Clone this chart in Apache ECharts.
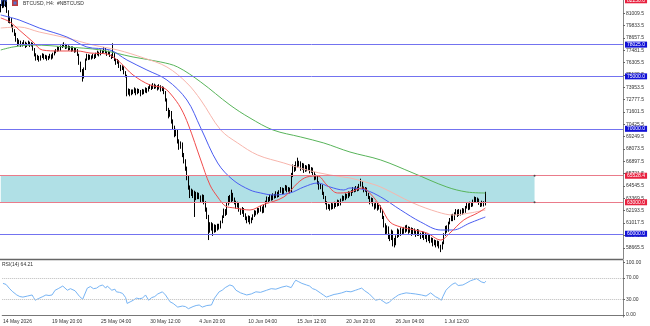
<!DOCTYPE html>
<html>
<head>
<meta charset="utf-8">
<script src="https://cdn.jsdelivr.net/npm/echarts@6/dist/echarts.min.js"></script>
<style>
  html, body { margin: 0; padding: 0; background: #fff; }
  #chart { width: 650px; height: 326px; }
</style>
</head>
<body>
<div id="chart"></div>
<script>
// BTCUSD H4 candles (open = previous close)
var firstOpen = 81300;
var closes = [
  81650, 81950, 81700, 82050, 81200, 80300, 80450, 79800, 79350, 79050,
  78500, 78150, 78300, 77950, 78100, 78250, 77900, 78050, 78200, 77950,
  78100, 77600, 77100, 76700, 76900, 76600, 76850, 77050, 76750, 76900,
  76650, 76800, 77000, 76750, 77100, 77300, 77450, 77700, 77550, 77800,
  77900, 78050, 77750, 77850, 77600, 77750, 77500, 77700, 77400, 77550,
  77100, 76300, 75600, 74900, 75700, 76600, 77000, 76700, 76900, 76750,
  77000, 76800, 77100, 77300, 77050, 77400, 77300, 77650, 77350, 77100,
  77300, 77000, 76800, 77200, 76600, 76300, 76500, 76000, 75700, 75900,
  75400, 75100, 73400, 73700, 73300, 73600, 73500, 73800, 73400, 73700,
  73600, 73300, 73650, 73500, 73800, 73600, 73900, 74100, 73850, 74200,
  73950, 74050, 73800, 74100, 73700, 73900, 73500, 72800, 71900, 71300,
  71600, 70800, 70200, 69500, 69800, 68900, 68300, 68600, 67600, 67000,
  66300, 65400, 64500, 63800, 64100, 63600, 63900, 63400, 63800, 63500,
  63200, 63600, 63000, 62400, 61700, 61000, 60500, 60900, 60300, 60700,
  60400, 60800, 60600, 61100, 61600, 62200, 61900, 62800, 63400, 63100,
  63700, 63300, 63000, 62600, 62900, 62300, 62000, 62400, 61800, 61500,
  61200, 61600, 61100, 61400, 61700, 62100, 61900, 62300, 62200, 62500,
  62100, 62600, 63000, 63400, 63200, 63600, 63300, 63700, 63500, 63900,
  63600, 64000, 64300, 63900, 64200, 64500, 64100, 64300, 64000, 65600,
  66400, 66100, 66700, 66500, 66800, 66200, 66600, 66000, 66400, 66100,
  66500, 65900, 66200, 65800, 65300, 65500, 64900, 64400, 64600, 63900,
  63500, 63000, 62500, 62700, 62400, 62800, 62500, 62900, 62700, 63100,
  62800, 63200, 63500, 63300, 63700, 63500, 63900, 63700, 64000, 64300,
  64100, 64400, 64200, 64600, 64900, 64400, 64100, 64300, 63800, 63500,
  63000, 63300, 62800, 62500, 62900, 62400, 62600, 62200, 61600, 60900,
  60200, 60600, 59800, 59600, 60200, 59500, 59000, 59700, 60300, 59900,
  60400, 60100, 60500, 60300, 60600, 60200, 60500, 60000, 60400, 60200,
  59900, 60300, 60000, 59700, 60100, 59600, 59900, 59400, 59800, 59300,
  59500, 59000, 59300, 58900, 59200, 58800, 58600, 59100, 59900, 60600,
  60300, 61000, 61300, 61700, 61400, 61900, 62200, 61800, 62200, 61900,
  62300, 62100, 62500, 62800, 62400, 62900, 62700, 63100, 63400, 63100,
  63300, 62900, 62700, 63000, 62800, 63800
];
var highs = [
  81900, 82150, 82250, 82200, 82100, 81300, 80700, 80550, 79900, 79500,
  79150, 78650, 78500, 78400, 78250, 78450, 78300, 78200, 78400, 78300,
  78250, 78200, 77700, 77200, 77050, 76950, 77000, 77200, 77150, 77050,
  77000, 76950, 77150, 77100, 77250, 77450, 77600, 77850, 77800, 77950,
  78100, 78250, 78100, 78000, 77950, 77900, 77850, 77850, 77750, 77700,
  77600, 77150, 76400, 75700, 75850, 76700, 77150, 77100, 77050, 77000,
  77150, 77100, 77250, 77450, 77350, 77550, 77500, 77800, 77700, 77400,
  77450, 77350, 77100, 78150, 77250, 76700, 76650, 76550, 76100, 76050,
  75950, 75500, 75150, 73850, 73800, 73750, 73750, 73950, 73850, 73850,
  73800, 73700, 73800, 73750, 73950, 73900, 74050, 74250, 74200, 74350,
  74300, 74200, 74150, 74250, 74150, 74050, 74000, 73600, 72900, 72000,
  71800, 71700, 70900, 70300, 70000, 69900, 69000, 68800, 68700, 67700,
  67100, 66400, 65500, 64600, 64300, 64200, 64100, 64000, 63950, 63900,
  63650, 63750, 63700, 63100, 62500, 61800, 61100, 61100, 61000, 60900,
  60850, 60950, 60950, 61250, 61750, 62400, 62350, 62950, 63600, 63700,
  64200, 63900, 63450, 63150, 63050, 63000, 62400, 62550, 62450, 61950,
  61650, 61750, 61700, 61550, 61850, 62250, 62200, 62450, 62450, 62650,
  62600, 62750, 63150, 63550, 63500, 63750, 63700, 63850, 63800, 64050,
  64000, 64150, 64450, 64400, 64350, 64650, 64600, 64450, 64400, 65800,
  66600, 66550, 66900, 67250, 66950, 66900, 66750, 66700, 66550, 66500,
  66650, 66600, 66350, 66300, 65900, 65650, 65600, 65000, 64750, 64700,
  64000, 63600, 63100, 62850, 62800, 62950, 62900, 63050, 63000, 63250,
  63200, 63350, 63650, 63600, 63850, 63800, 64050, 64000, 64150, 64450,
  64400, 64550, 64500, 64750, 65250, 65000, 64500, 64450, 64400, 63900,
  63600, 63450, 63400, 62900, 63050, 63000, 62750, 62700, 62300, 61700,
  61000, 60800, 60700, 60000, 60400, 60300, 59600, 59850, 60500, 60400,
  60600, 60500, 60650, 60800, 60850, 60700, 60650, 60600, 60550, 60500,
  60300, 60450, 60400, 60100, 60250, 60200, 60050, 60000, 59950, 59900,
  59650, 59600, 59450, 59400, 59350, 59300, 58950, 59250, 60050, 60750,
  60800, 61150, 61500, 61850, 61900, 62050, 62350, 62300, 62350, 62300,
  62450, 62400, 62650, 62950, 62900, 63050, 63000, 63250, 63550, 63500,
  63450, 63350, 63000, 63150, 63100, 64000
];
var lows = [
  81100, 81500, 81550, 81600, 81050, 80100, 80050, 79600, 79200, 78850,
  78300, 77900, 77950, 77800, 77850, 78000, 77700, 77800, 77950, 77800,
  77850, 77450, 76900, 76500, 76550, 76400, 76500, 76750, 76600, 76650,
  76500, 76550, 76700, 76600, 76700, 77000, 77200, 77350, 77400, 77450,
  77700, 77800, 77600, 77650, 77450, 77500, 77350, 77400, 77250, 77300,
  76950, 76100, 75400, 74500, 74800, 75600, 76500, 76550, 76600, 76600,
  76700, 76650, 76750, 77000, 76900, 77000, 77150, 77250, 77200, 76950,
  77050, 76850, 76650, 76750, 76450, 76100, 76200, 75800, 75500, 75600,
  75200, 74900, 73100, 73250, 73100, 73200, 73300, 73400, 73200, 73300,
  73400, 73100, 73250, 73300, 73450, 73400, 73550, 73800, 73700, 73800,
  73800, 73850, 73650, 73750, 73550, 73600, 73300, 72600, 71700, 71000,
  71150, 70500, 69900, 69200, 69300, 68600, 68000, 68100, 67300, 66700,
  66000, 65100, 64200, 63400, 63600, 63400, 61600, 63200, 63300, 63300,
  63000, 63050, 62800, 62100, 61400, 59400, 60100, 60300, 59800, 60100,
  60150, 60300, 60400, 60500, 61000, 61500, 61700, 61800, 62700, 62900,
  63000, 63100, 62800, 62400, 62500, 62100, 61800, 61900, 61600, 61300,
  61000, 61100, 60900, 61000, 61300, 61600, 61750, 61850, 62000, 62100,
  61950, 62000, 62500, 62900, 63000, 63100, 63150, 63200, 63350, 63400,
  63450, 63500, 63900, 63750, 63800, 64100, 63950, 64000, 63850, 63950,
  65400, 65900, 66000, 66300, 66400, 66000, 66100, 65800, 65900, 65950,
  66000, 65750, 65800, 65600, 65100, 65150, 64700, 64200, 64250, 63700,
  63300, 62800, 62300, 62350, 62200, 62300, 62350, 62400, 62550, 62600,
  62650, 62700, 63100, 63150, 63200, 63350, 63400, 63550, 63600, 63900,
  63950, 64000, 64050, 64100, 64500, 64250, 63950, 64000, 63600, 63300,
  62800, 62900, 62600, 62300, 62400, 62200, 62300, 62000, 61400, 60600,
  59900, 60000, 59500, 59300, 59400, 58800, 58700, 58900, 59600, 59700,
  59800, 59900, 60000, 60100, 60200, 60000, 60100, 59800, 59900, 60000,
  59700, 59800, 59800, 59500, 59600, 59400, 59500, 59200, 59300, 59100,
  59150, 58800, 58900, 58700, 58800, 58600, 58250, 58500, 59000, 59800,
  60100, 60200, 60900, 61200, 61200, 61300, 61800, 61600, 61700, 61750,
  61800, 61950, 62000, 62400, 62250, 62300, 62550, 62600, 63000, 62950,
  63000, 62750, 62550, 62600, 62600, 62700
];

// moving averages: [bar index, price]
var maRed = [[0, 80562], [6, 80180], [12, 79418], [21, 78274], [27, 77512], [38, 77417], [50, 77417],
  [58, 77226], [69, 77131], [74, 76750], [78, 76273], [86, 75130], [97, 74177], [106, 73891],
  [111, 73224], [117, 71985], [122, 70365], [130, 67029], [136, 64647], [141, 63503], [146, 62645],
  [152, 62455], [162, 62264], [170, 62741], [184, 63503], [193, 64837], [199, 65409], [206, 65504],
  [212, 64647], [219, 63884], [227, 63979], [235, 64361], [241, 63694], [247, 62550], [253, 61120],
  [260, 60644], [269, 60358], [277, 60072], [286, 59405], [292, 60072], [301, 61311], [310, 61978],
  [315, 62455]];
var maBlue = [[0, 80847], [12, 80371], [25, 79609], [43, 78751], [56, 77798], [71, 77512], [82, 76559],
  [95, 75606], [108, 74653], [121, 72747], [130, 70079], [141, 66743], [151, 65123], [162, 64170],
  [169, 63884], [177, 63694], [188, 63884], [197, 64456], [206, 64837], [214, 64456], [223, 64170],
  [227, 64361], [237, 64170], [247, 63503], [260, 62264], [273, 61120], [286, 60358], [294, 60358],
  [305, 61025], [315, 61597]];
var maPink = [[0, 79609], [12, 79704], [25, 79227], [43, 78656], [60, 77988], [76, 77512], [93, 76750],
  [108, 75892], [121, 74367], [130, 72747], [143, 69888], [154, 68649], [167, 67505], [184, 66743],
  [199, 66076], [214, 65600], [227, 65314], [237, 64932], [247, 64456], [268, 62931], [284, 62073],
  [294, 61787], [305, 61978], [315, 62264]];
var maGreen = [[0, 77512], [8, 77798], [21, 77988], [43, 77798], [65, 77512], [86, 76845], [104, 76368],
  [115, 75892], [130, 74462], [149, 72271], [162, 71032], [177, 69888], [195, 69221], [210, 68649],
  [227, 67791], [247, 67029], [268, 65791], [290, 64456], [303, 63979], [315, 63884]];

// RSI(14): [bar index, value]
var rsi14 = [[0, 60], [1, 63], [2, 58], [4, 51], [6, 45], [7, 42], [9, 38], [11, 35], [13, 34], [14, 33],
  [16, 36], [17, 35], [19, 38], [20, 33], [21, 28], [23, 31], [24, 32], [26, 35], [28, 38], [30, 37],
  [32, 38], [34, 47], [36, 50], [37, 52], [39, 55], [40, 54], [42, 47], [44, 50], [45, 51], [47, 46],
  [48, 47], [50, 35], [52, 30], [53, 28], [55, 51], [57, 54], [59, 50], [61, 51], [63, 55], [65, 57],
  [67, 51], [68, 55], [69, 54], [71, 47], [73, 49], [74, 44], [76, 43], [78, 41], [80, 33], [81, 22],
  [83, 25], [85, 28], [87, 32], [89, 31], [91, 32], [93, 38], [95, 28], [97, 33], [99, 35], [101, 40],
  [104, 44], [106, 38], [107, 35], [109, 25], [111, 22], [112, 19], [114, 15], [115, 13], [117, 17],
  [119, 16], [121, 12], [122, 10], [124, 16], [126, 18], [128, 19], [130, 15], [131, 16], [133, 18],
  [134, 16], [136, 19], [138, 32], [139, 36], [141, 44], [143, 47], [145, 52], [148, 57], [150, 55],
  [152, 47], [155, 42], [157, 40], [159, 38], [162, 40], [165, 44], [168, 43], [172, 47], [175, 50],
  [178, 49], [182, 53], [185, 55], [188, 52], [190, 62], [191, 66], [193, 63], [195, 60], [198, 57],
  [200, 55], [202, 50], [204, 48], [207, 42], [209, 38], [211, 34], [213, 36], [216, 39], [218, 40],
  [221, 42], [224, 45], [227, 44], [230, 47], [232, 49], [234, 51], [236, 46], [239, 40], [241, 34],
  [243, 28], [246, 30], [248, 26], [250, 22], [252, 24], [254, 30], [256, 34], [258, 38], [260, 40],
  [263, 42], [266, 41], [269, 40], [273, 38], [276, 36], [279, 42], [282, 35], [284, 32], [286, 28],
  [287, 35], [289, 47], [291, 53], [293, 58], [295, 61], [297, 56], [300, 57], [302, 60], [305, 65],
  [307, 67], [309, 69], [310, 70], [312, 63], [314, 61], [315, 64.21]];

var priceTicks = [58665.5, 59841.5, 61017.5, 62193.5, 63369.5, 64545.5, 65721.5, 66897.5, 68073.5,
  69249.5, 70425.5, 71601.5, 72777.5, 73953.5, 75129.5, 76305.5, 77481.5, 78657.5, 79833.5, 81009.5];
var rsiTicks = [0, 30, 70, 100];
var blueLevels = [78025, 75000, 70000, 60000];
var redLevels = [65528.4, 63000];
var topLevel = 82250;
var zoneTop = 65528.4, zoneBottom = 63000, zoneEndBar = 347;
var slotCount = 405;
var labelEvery = 32;

// time categories, one per 4 hours
var months = ['Jan', 'Feb', 'Mar', 'Apr', 'May', 'Jun', 'Jul', 'Aug', 'Sep', 'Oct', 'Nov', 'Dec'];
var startTime = Date.UTC(2026, 4, 14, 12);
var cats = [];
for (var i = 0; i < slotCount; i++) {
  var d = new Date(startTime + i * 4 * 3600 * 1000);
  var hh = d.getUTCHours();
  cats.push(d.getUTCDate() + ' ' + months[d.getUTCMonth()] + ' ' + (hh < 10 ? '0' + hh : hh) + ':00');
}

var ohlc = [];
var prev = firstOpen;
for (var k = 0; k < closes.length; k++) {
  ohlc.push([prev, closes[k], lows[k], highs[k]]);
  prev = closes[k];
}
var lastBar = closes.length - 1;

var font = 'Liberation Sans';
var txt = '#333';

// only label bars that exist
function showTime(index) {
  return index % labelEvery === 0 && index <= lastBar;
}

function levelLine(v, lineColor, boxColor) {
  return {
    yAxis: v,
    lineStyle: { color: lineColor, width: 1, type: 'solid' },
    label: {
      show: true, position: 'end', distance: 2,
      formatter: v.toFixed(1),
      color: '#fff', backgroundColor: boxColor,
      fontSize: 5, fontFamily: font, padding: [1, 2, 0, 2]
    }
  };
}

function maSeries(data, color) {
  return {
    type: 'line', xAxisIndex: 0, yAxisIndex: 0, data: data,
    showSymbol: false, smooth: 0.35, z: 4, silent: true,
    lineStyle: { color: color, width: 1 }
  };
}

var levelData = blueLevels.map(function (v) { return levelLine(v, '#7373f0', '#1212d6'); })
  .concat(redLevels.map(function (v) { return levelLine(v, '#ea7b8a', '#e8213f'); }));
levelData.push(levelLine(topLevel, 'rgba(0,0,0,0)', '#e8213f'));

var myChart = echarts.init(document.getElementById('chart'));
var option = {
  animation: false,
  backgroundColor: '#fff',
  grid: [
    { left: 0, right: 27, top: 0, height: 259 },
    { left: 0, right: 27, top: 260, height: 57 }
  ],
  xAxis: [
    { type: 'category', gridIndex: 0, data: cats, boundaryGap: true, show: false },
    {
      type: 'category', gridIndex: 1, data: cats, boundaryGap: true,
      axisLine: { lineStyle: { color: '#777', width: 1 } },
      axisTick: { interval: showTime, alignWithLabel: true, length: 3, lineStyle: { color: '#555' } },
      axisLabel: {
        interval: showTime, align: 'left', margin: 2, fontSize: 5, fontFamily: font, color: txt,
        formatter: function (v, idx) { return idx === 0 ? '14 May 2026' : v; }
      },
      splitLine: { show: false }
    }
  ],
  yAxis: [
    {
      type: 'value', gridIndex: 0, position: 'right', min: 57594, max: 82277,
      axisLine: { show: true, lineStyle: { color: '#888' } },
      axisTick: { show: true, length: 2, customValues: priceTicks, lineStyle: { color: '#666' } },
      axisLabel: {
        customValues: priceTicks, margin: 3, fontSize: 5, fontFamily: font, color: txt,
        formatter: function (v) { return v.toFixed(1); }
      },
      splitLine: { show: false }
    },
    {
      type: 'value', gridIndex: 1, position: 'right', min: -3.8, max: 104.4,
      axisLine: { show: true, lineStyle: { color: '#888' } },
      axisTick: { show: true, length: 2, customValues: rsiTicks, lineStyle: { color: '#666' } },
      axisLabel: {
        customValues: rsiTicks, margin: 3, fontSize: 5, fontFamily: font, color: txt,
        formatter: function (v) { return v.toFixed(2); }
      },
      splitLine: { show: false }
    }
  ],
  series: [
    {
      // support / resistance zone
      type: 'line', xAxisIndex: 0, yAxisIndex: 0, data: [], z: 1, silent: true,
      markArea: {
        silent: true,
        itemStyle: { color: '#b0e0e6', opacity: 1 },
        data: [[{ xAxis: cats[0], yAxis: zoneTop }, { xAxis: cats[zoneEndBar], yAxis: zoneBottom }]]
      }
    },
    {
      type: 'candlestick', xAxisIndex: 0, yAxisIndex: 0, data: ohlc, z: 3,
      barMaxWidth: 1.2, silent: true,
      itemStyle: { color: '#fff', color0: '#000', borderColor: '#000', borderColor0: '#000', borderWidth: 1 }
    },
    maSeries(maGreen, '#58b45a'),
    maSeries(maPink, '#f7b5ac'),
    maSeries(maBlue, '#4a5cf0'),
    maSeries(maRed, '#f04b4b'),
    {
      type: 'scatter', xAxisIndex: 0, yAxisIndex: 0, z: 5, silent: true,
      symbolSize: 2, itemStyle: { color: '#333' },
      data: [[cats[zoneEndBar], zoneTop], [cats[zoneEndBar], zoneBottom]]
    },
    {
      // horizontal levels
      type: 'line', xAxisIndex: 0, yAxisIndex: 0, data: [], z: 6, silent: true,
      markLine: { silent: true, symbol: 'none', animation: false, data: levelData }
    },
    {
      type: 'line', xAxisIndex: 1, yAxisIndex: 1, data: rsi14, z: 4, silent: true,
      showSymbol: false, lineStyle: { color: '#77b4f4', width: 1 },
      markLine: {
        silent: true, symbol: 'none', label: { show: false },
        lineStyle: { color: '#bbb', type: 'dotted', width: 1 },
        data: [{ yAxis: 70 }, { yAxis: 30 }]
      }
    }
  ],
  graphic: [
    { type: 'rect', shape: { x: 1, y: 0, width: 6, height: 6 }, style: { fill: '#27408b' } },
    { type: 'rect', shape: { x: 2.5, y: 1.5, width: 3, height: 3 }, style: { fill: '#6f8fd8' } },
    { type: 'rect', shape: { x: 12, y: 0, width: 6, height: 6 }, style: { fill: '#c03a3a' } },
    { type: 'rect', shape: { x: 13.5, y: 1.5, width: 3, height: 3 }, style: { fill: '#5b6fc9' } },
    {
      type: 'text', left: 23, top: 1,
      style: { text: 'BTCUSD, H4:  #NBTCUSD', fontSize: 5, fontFamily: font, fill: '#333' }
    },
    {
      type: 'line', shape: { x1: 0, y1: 259.5, x2: 623, y2: 259.5 },
      style: { stroke: '#666', lineWidth: 1.5 }
    },
    {
      type: 'text', left: 2, top: 262,
      style: { text: 'RSI(14) 64.21', fontSize: 5, fontFamily: font, fill: '#333' }
    }
  ]
};
myChart.setOption(option);
</script>
</body>
</html>
